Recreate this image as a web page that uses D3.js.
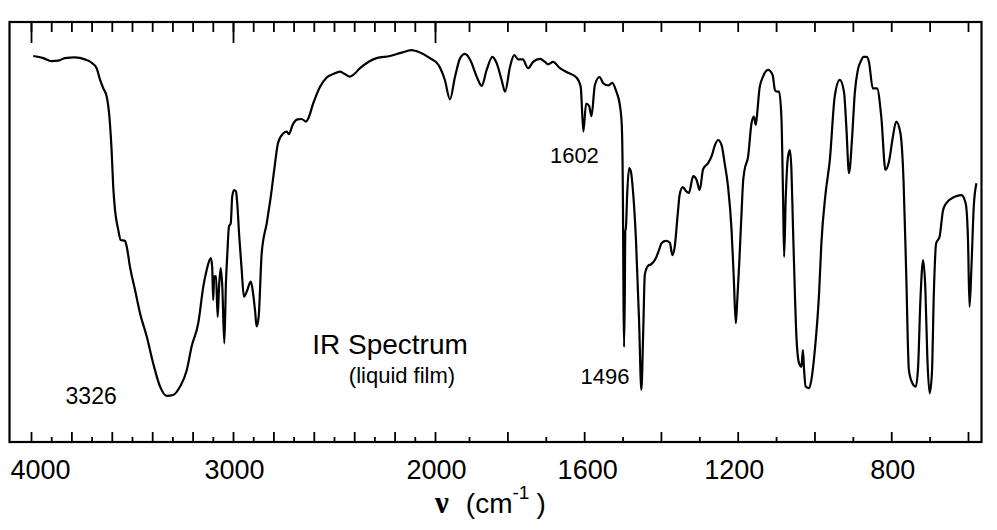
<!DOCTYPE html>
<html><head><meta charset="utf-8">
<script src="https://cdn.jsdelivr.net/npm/d3@7"></script>
<style>body{margin:0;background:#fff}svg{display:block}</style>
</head><body><svg id="c" width="997" height="530"></svg>
<script>
// ---- data (wavenumber in cm-1, transmittance in %) ----
const wavenumber = [3989,3939,3898,3865,3832,3782,3733,3700,3675,3658,
3642,3625,3612,3601,3593,3584,3568,3556,3535,3526,
3510,3485,3460,3427,3395,3361,3328,3296,3262,3229,
3205,3172,3147,3130,3110,3103,3098,3093,3084,3076,
3069,3061,3053,3043,3035,3028,3020,3011,3004,2995,
2985,2979,2969,2957,2946,2932,2912,2903,2891,2883,
2873,2858,2833,2813,2796,2777,2751,2734,2723,2705,
2680,2660,2639,2627,2603,2569,2536,2504,2470,2446,
2421,2405,2371,2289,2223,2165,2116,2083,2025,1990,
1971,1956,1941,1926,1912,1897,1880,1867,1854,1839,
1828,1815,1806,1793,1782,1772,1760,1746,1733,1715,
1702,1694,1681,1663,1642,1620,1609,1602,1595,1587,
1581,1572,1560,1550,1537,1527,1516,1507,1502,1499,
1497.5,1496,1494,1493,1491,1488,1483,1478,1473,1465,
1457,1451,1446,1442,1434,1424,1413,1405,1398,1387,
1377,1370,1364,1356,1351,1343,1335,1327,1316,1307,
1299,1290,1277,1267,1260,1251,1242,1234,1225,1216,
1210,1205,1202,1196,1190,1186,1182,1173,1164,1158,
1153,1150,1143,1134,1121,1109,1103,1097,1092,1086,
1082,1079,1075,1069,1064,1060,1056,1051,1047,1040,
1034,1030,1027,1023,1014,1008,999,988,982,971,
960,947,934,923,917,910,902,895,887,880,
872,864,858,848,837,826,815,806,797,787,
776,768,761,754,745,736,730,724,717,711,
706,700,694,689,683,674,665,657,635,617,
606,600,596,591,585,578];
const transmittance = [91.9,91.4,90.7,90.8,91.4,91.6,91.1,90.3,89.0,86.2,
84.2,82.2,77.5,69.5,60.8,55.2,50.5,48.1,47.9,46.5,
41.7,36.2,30.6,25.1,18.7,13.2,11.0,11.2,13.2,17.1,
22.7,28.3,37.0,41.0,43.8,41.7,33.8,39.4,39.5,29.8,
37.0,41.4,37.0,23.5,37.8,44.9,51.3,52.1,58.4,60.0,
59.6,56.8,48.9,41.0,34.6,35.8,38.2,36.2,31.4,27.5,
29.8,44.9,52.1,58.4,64.8,71.2,73.5,73.9,73.3,75.5,
76.8,76.9,76.3,77.1,80.6,84.6,86.8,87.6,88.2,87.6,
87.0,87.4,89.0,91.4,91.9,92.7,93.3,92.9,91.4,89.8,
86.2,81.6,87.0,91.4,92.4,91.0,87.0,84.8,88.6,91.7,
90.2,86.2,83.4,89.4,92.1,91.1,91.1,89.0,90.5,91.2,
90.5,89.9,90.5,89.0,87.9,86.8,84.6,73.9,80.6,80.0,
77.6,85.0,86.9,85.4,84.9,85.5,83.4,80.2,75.5,57.6,
33.8,22.6,36.2,50.0,51.2,58.8,65.2,64.3,60.0,48.1,
29.0,12.4,26.7,39.8,41.9,42.4,43.8,45.7,47.4,47.9,
47.5,44.5,46.5,54.5,59.0,60.7,59.8,59.3,63.3,62.4,
60.0,65.0,66.4,68.3,70.5,71.9,70.7,66.4,60.7,50.5,
38.6,28.3,32.2,42.5,54.5,61.9,64.8,67.9,75.9,77.5,
75.5,77.5,84.3,87.0,88.6,87.4,83.8,83.4,83.4,77.1,
59.3,44.1,57.6,67.9,69.5,64.8,51.3,35.4,25.1,18.7,
17.9,21.9,17.1,13.2,12.8,14.8,21.9,35.4,47.3,59.2,
67.1,82.4,86.2,83.3,75.1,64.0,72.4,83.0,88.6,90.5,
91.7,91.7,90.5,84.2,84.2,77.5,64.8,66.7,71.9,76.3,
73.5,62.4,40.2,17.1,14.0,13.2,17.9,33.8,43.3,36.2,
20.3,11.6,16.4,35.4,47.3,48.9,55.2,56.8,58.4,58.8,
56.8,48.1,32.2,41.7,56.0,61.6];

const tickLabels = [4000,3000,2000,1600,1200,800];
const majorTopTicks = [4000,3000,2000];
const allTicks = d3.range(600, 4001, 100);
const peakNames = ["3326","1602","1496"];
const peakPos = [3326,1602,1496];

// ---- layout ----
const L = 9.5, R = 981.5, T = 22, B = 442;
const svg = d3.select("#c");
const font = "'Liberation Sans', Arial, Helvetica, sans-serif";

// piecewise-linear wavenumber scale (scale change at 2000 cm-1)
const x = d3.scaleLinear().domain([4000, 2000, 1900, 600]).range([31, 435, 469, 968]);
const y = d3.scaleLinear().domain([0, 100]).range([B, T]);

// top ticks
const gTop = svg.append("g").attr("transform", `translate(0,${T})`)
  .call(d3.axisTop(x).tickValues(allTicks).tickSize(-10).tickFormat(""));
const gTopMaj = svg.append("g").attr("transform", `translate(0,${T})`)
  .call(d3.axisTop(x).tickValues(majorTopTicks).tickSize(-21).tickFormat(""));
// bottom ticks (alternate long/short)
const gBot1 = svg.append("g").attr("transform", `translate(0,${B})`)
  .call(d3.axisBottom(x).tickValues(allTicks.filter(v => v % 200 === 0)).tickSize(-10).tickFormat(""));
const gBot2 = svg.append("g").attr("transform", `translate(0,${B})`)
  .call(d3.axisBottom(x).tickValues(allTicks.filter(v => v % 200 !== 0)).tickSize(-5).tickFormat(""));
[gTop, gTopMaj, gBot1, gBot2].forEach(g => {
  g.select(".domain").remove();
  g.selectAll("line").attr("stroke", "#000").attr("stroke-width", 1.8);
});

// tick labels
const gLab = svg.append("g").attr("transform", `translate(0,${B})`)
  .call(d3.axisBottom(x).tickValues(tickLabels).tickSize(0).tickPadding(18).tickFormat(d3.format("d")));
gLab.select(".domain").remove();
gLab.selectAll("text").attr("font-family", font).attr("font-size", 27).attr("fill", "#000")
  .attr("dx", d => d === 4000 ? 9 : (d === 1600 ? 3 : (d === 1200 ? -4 : 1)));

// frame
svg.append("rect").attr("x", L).attr("y", T).attr("width", R - L).attr("height", B - T)
  .attr("fill", "none").attr("stroke", "#000").attr("stroke-width", 2.2);

// spectrum
const pts = d3.zip(wavenumber, transmittance);
const line = d3.line().x(d => x(d[0])).y(d => y(d[1])).curve(d3.curveMonotoneX);
svg.append("path").datum(pts).attr("d", line)
  .attr("fill", "none").attr("stroke", "#000").attr("stroke-width", 2.2)
  .attr("stroke-linejoin", "round");

// peak labels
const peakOffsets = [[-76, 8], [-9, 31], [-19, 37]];
peakNames.forEach((t, i) => {
  const w = peakPos[i];
  let idx = d3.minIndex(wavenumber, v => Math.abs(v - w));
  svg.append("text").attr("x", x(w) + peakOffsets[i][0]).attr("y", y(transmittance[idx]) + peakOffsets[i][1])
    .attr("text-anchor", "middle").attr("font-family", font).attr("font-size", i === 0 ? 23 : 22).attr("fill", "#000").text(t);
});

// title
svg.append("text").attr("x", 390).attr("y", 354).attr("text-anchor", "middle")
  .attr("font-family", font).attr("font-size", 28).attr("fill", "#000").text("IR Spectrum");
svg.append("text").attr("x", 402).attr("y", 383).attr("text-anchor", "middle")
  .attr("font-family", font).attr("font-size", 22).attr("fill", "#000").text("(liquid film)");

// axis title
const at = svg.append("text").attr("x", 435).attr("y", 513).attr("fill", "#000");
at.append("tspan").attr("font-family", "'Liberation Serif', 'Times New Roman', serif").attr("font-size", 31)
  .attr("font-weight", "bold").text("ν");
at.append("tspan").attr("font-family", font).attr("font-size", 28).attr("dx", 17).text("(cm");
at.append("tspan").attr("font-family", font).attr("font-size", 19).attr("dy", -14).text("-1");
at.append("tspan").attr("font-family", font).attr("font-size", 28).attr("dy", 14).attr("dx", 7).text(")");
</script></body></html>
